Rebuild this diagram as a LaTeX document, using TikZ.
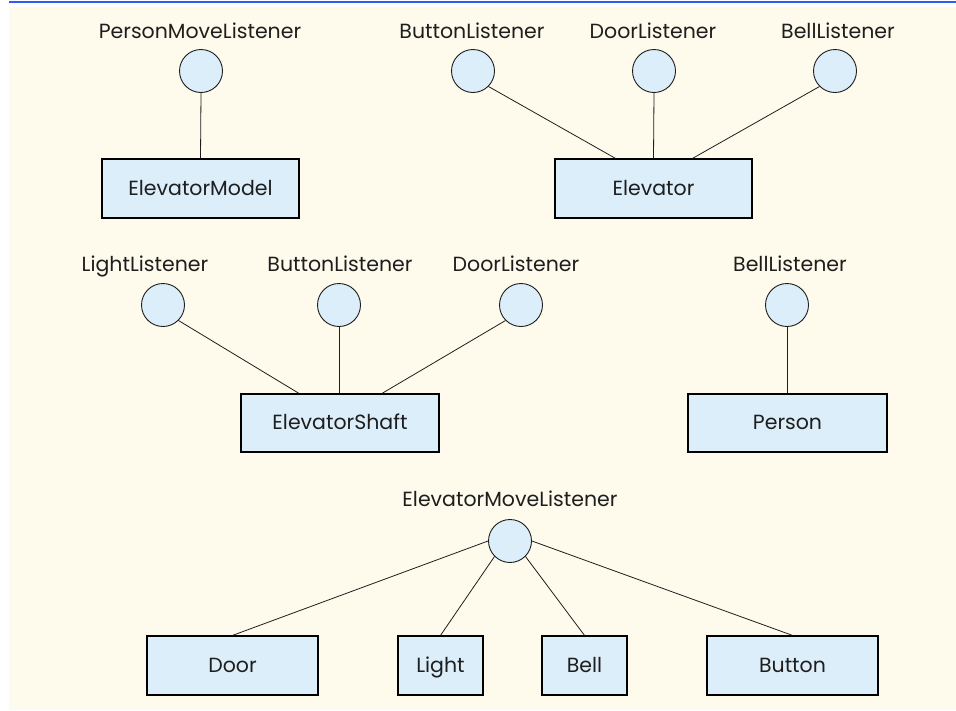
\documentclass[tikz,border=0pt]{standalone}
\usepackage{fontspec}
\setmainfont{Poppins}
\definecolor{cream}{HTML}{FEFAEC}
\definecolor{boxblue}{HTML}{DCEEF9}
\definecolor{topblue}{HTML}{2F5BF0}
\definecolor{ink}{HTML}{1E1E1E}
\begin{document}
\begin{tikzpicture}[x=1pt,y=-1pt,
  iface/.style={circle,draw=ink,line width=0.9pt,fill=boxblue,minimum size=43pt,inner sep=0pt},
  iname/.style={text=ink,font=\fontsize{20.5}{22}\selectfont,inner sep=0pt,anchor=base},
  cls/.style={rectangle,draw=black,line width=1.2pt,fill=boxblue,inner sep=0pt,minimum height=59pt,text=ink,font=\fontsize{20.5}{22}\selectfont,text height=13pt,text depth=0pt},
  wide/.style={cls,minimum width=197pt},
  mid/.style={cls,minimum width=171pt},
  narrow/.style={cls,minimum width=85pt},
  link/.style={draw=ink,line width=0.8pt}]
\useasboundingbox (0,0) rectangle (956,710);
\fill[cream] (9,7) rectangle (956,710);
\fill[topblue] (9,1) rectangle (956,3.3);
% row 1
\node[iname] (pmlt) at (200,38) {PersonMoveListener};
\node[iface] (pml) at (201,71) {};
\node[wide] (model) at (200.5,188.5) {ElevatorModel};
\node[iname] (bl1t) at (472,38) {ButtonListener};
\node[iface] (bl1) at (473,71) {};
\node[iname] (dl1t) at (653,38) {DoorListener};
\node[iface] (dl1) at (654,71) {};
\node[iname] (bel1t) at (838,38) {BellListener};
\node[iface] (bel1) at (835,71) {};
\node[wide] (elev) at (653.5,188.5) {Elevator};
% row 2
\node[iname] (llt) at (145,271) {LightListener};
\node[iface] (ll) at (163,305) {};
\node[iname] (bl2t) at (340,271) {ButtonListener};
\node[iface] (bl2) at (339,305) {};
\node[iname] (dl2t) at (516,271) {DoorListener};
\node[iface] (dl2) at (521,305) {};
\node[wide,minimum width=198pt,minimum height=58pt] (shaft) at (340,423) {ElevatorShaft};
\node[iname] (bel2t) at (790,271) {BellListener};
\node[iface] (bel2) at (787,305) {};
\node[wide,minimum width=199pt,minimum height=58pt] (person) at (787.5,423) {Person};
% row 3
\node[iname] (emlt) at (510,506) {ElevatorMoveListener};
\node[iface] (eml) at (510,541) {};
\node[mid] (door) at (232.5,665.5) {Door};
\node[narrow] (light) at (440.5,665.5) {Light};
\node[narrow] (bell) at (584.5,665.5) {Bell};
\node[mid] (button) at (792.5,665.5) {Button};
% connectors
\draw[link] (pml.south) -- (model.north);
\draw[link] (bl1.south east) -- ([xshift=-38pt]elev.north);
\draw[link] (dl1.south) -- (elev.north);
\draw[link] (bel1.south west) -- ([xshift=39pt]elev.north);
\draw[link] (ll.south east) -- ([xshift=-41pt]shaft.north);
\draw[link] (bl2.south) -- (shaft.north -| bl2.south);
\draw[link] (dl2.south west) -- ([xshift=42pt]shaft.north);
\draw[link] (bel2.south) -- (person.north -| bel2.south);
\draw[link] (eml.west) -- (door.north);
\draw[link] (eml.south west) -- (light.north);
\draw[link] (eml.south east) -- (bell.north);
\draw[link] (eml.east) -- (button.north);
\end{tikzpicture}
\end{document}
